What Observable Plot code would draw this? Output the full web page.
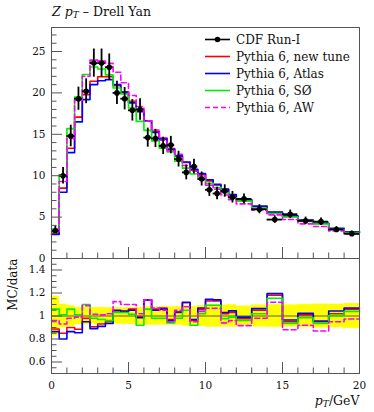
<!DOCTYPE html>
<html><head><meta charset="utf-8">
<script src="https://cdn.jsdelivr.net/npm/d3@7"></script>
<script src="https://cdn.jsdelivr.net/npm/@observablehq/plot@0.6"></script>
<style>
body{margin:0;background:#fff;}
#wrap{position:relative;width:374px;height:412px;font-family:"DejaVu Serif",serif;}
#wrap .p{position:absolute;left:0;}
</style></head><body><div id="wrap"></div>
<script>
// bin edges (GeV)
const binEdges = [0,0.5,1,1.5,2,2.5,3,3.5,4,4.5,5,5.5,6,6.5,7,7.5,8,8.5,9,9.5,10,10.5,11,11.5,12,13,14,15,16,17,18,19,20];
// CDF Run-I data
const cdfValue = [3.35,10.0,14.8,19.3,20.2,23.6,23.6,23.1,20.0,19.3,17.9,18.0,14.6,14.5,13.6,13.7,12.0,10.4,11.1,9.6,8.3,7.85,8.15,7.4,7.2,5.95,4.7,5.35,4.55,4.45,3.5,3.0];
const cdfError = [0.57,1.0,1.3,1.4,1.5,1.7,1.7,1.6,1.4,1.35,1.3,1.3,1.15,1.1,1.05,1.05,0.95,0.9,0.9,0.85,0.8,0.75,0.75,0.7,0.6,0.55,0.45,0.5,0.45,0.45,0.35,0.32];
// MC / data ratios
const ratioNewTune = [0.887,0.85,0.90,0.885,0.98,0.907,0.93,0.95,1.043,1.043,1.06,0.995,1.14,1.06,1.07,0.97,1.03,1.115,0.962,1.058,1.13,1.13,1.02,1.03,0.977,1.05,1.18,0.95,1.01,0.95,1.02,1.06];
const ratioAtlas   = [0.864,0.80,0.864,0.855,0.95,0.89,0.91,0.935,1.05,1.04,1.05,0.985,1.14,1.05,1.06,0.96,1.035,1.12,0.97,1.07,1.145,1.14,1.03,1.045,0.99,1.064,1.195,0.965,1.023,0.957,1.043,1.07];
const ratioSO      = [1.06,1.01,1.06,1.01,1.10,0.98,0.97,0.96,1.03,1.03,1.015,0.92,1.06,0.98,0.98,0.94,0.98,1.05,0.92,1.02,1.093,1.093,0.977,0.99,0.962,1.02,1.155,0.936,0.985,0.936,1.003,1.04];
const ratioAW      = [0.96,0.93,0.98,0.99,1.09,1.015,1.01,1.02,1.125,1.10,1.10,1.02,1.14,1.07,1.05,0.95,1.05,1.08,0.95,1.04,1.067,1.067,0.94,0.96,0.916,0.98,1.12,0.88,0.92,0.87,0.95,0.974];
const seriesNames = ["Pythia 6, new tune","Pythia 6, Atlas","Pythia 6, SØ","Pythia 6, AW"];
const dataName = "CDF Run-I";
// ticks
const xMajor = [0,5,10,15,20];
const yMajorMain = [0,5,10,15,20,25];
const yMajorRatio = [0.6,0.8,1,1.2,1.4];
const yRatioLabels = ["0.6","0.8","1","1.2","1.4"];

const seriesStyle = [
  {stroke:"#ff0000"},{stroke:"#0000ff"},{stroke:"#00ee00"},{stroke:"#ff00ff",dash:"5,3"}
];
const ratios = [ratioNewTune, ratioAtlas, ratioSO, ratioAW];

const bins = cdfValue.map((v,i)=>({x1:binEdges[i],x2:binEdges[i+1],xc:(binEdges[i]+binEdges[i+1])/2,v,e:cdfError[i]}));
function steps(vals){const pts=[];vals.forEach((v,i)=>{pts.push({x:binEdges[i],y:v});pts.push({x:binEdges[i+1],y:v});});return pts;}

const AX = "#555";
const xMinor = d3.range(0,21,1).filter(d=>!xMajor.includes(d));
const yMinorMain = d3.range(0,28,1).filter(d=>!yMajorMain.includes(d));
const yMinorRatio = d3.range(0.55,1.5,0.05).map(d=>+d.toFixed(2)).filter(d=>!yMajorRatio.some(m=>Math.abs(m-d)<1e-6));

const common = {width:374, marginLeft:51, marginRight:15, style:{background:"transparent",overflow:"visible",fontFamily:"DejaVu Serif, serif",fontSize:"10.5px",color:"#111"}};

const lineMarks = (valsFn) => ratios.map((r,k)=>Plot.line(steps(valsFn(r)),{x:"x",y:"y",stroke:seriesStyle[k].stroke,strokeWidth:1.6,strokeDasharray:seriesStyle[k].dash||null}));

const main = Plot.plot({
  ...common, height:258, marginTop:27, marginBottom:0,
  x:{domain:[0,20], axis:null},
  y:{domain:[0,27.9], axis:null},
  marks:[
    ...lineMarks(r=>r.map((q,i)=>q*cdfValue[i])),
    Plot.ruleX(bins,{x:"xc",y1:d=>d.v-d.e,y2:d=>d.v+d.e,stroke:"black",strokeWidth:1.8}),
    Plot.ruleY(bins,{y:"v",x1:"x1",x2:"x2",stroke:"black",strokeWidth:1.8}),
    Plot.dot(bins,{x:"xc",y:"v",r:2.8,fill:"black"}),
    Plot.frame({stroke:AX}),
    Plot.axisY({ticks:yMajorMain,tickSize:-11,tickFormat:()=>"",label:null,stroke:AX}),
    Plot.axisY({ticks:yMinorMain,tickSize:-5.5,tickFormat:()=>"",label:null,stroke:AX}),
    Plot.axisY({ticks:yMajorMain,tickSize:0,tickPadding:6,label:null}),
    Plot.axisX({ticks:xMajor,tickSize:-11,tickFormat:()=>"",label:null,stroke:AX}),
    Plot.axisX({ticks:xMinor,tickSize:-5.5,tickFormat:()=>"",label:null,stroke:AX})
  ]
});

const ratio = Plot.plot({
  ...common, height:154, marginTop:0, marginBottom:39,
  x:{domain:[0,20], axis:null},
  y:{domain:[0.5,1.5], axis:null},
  marks:[
    Plot.rect(bins,{x1:"x1",x2:"x2",y1:d=>1-d.e/d.v,y2:d=>1+d.e/d.v,fill:"#ffff00",stroke:"#ffff00",strokeWidth:0.5}),
    Plot.ruleY([1],{stroke:"#333",strokeWidth:0.8}),
    ...lineMarks(r=>r),
    Plot.frame({stroke:AX}),
    Plot.axisY({ticks:yMajorRatio,tickSize:-11,tickFormat:()=>"",label:null,stroke:AX}),
    Plot.axisY({ticks:yMinorRatio,tickSize:-5.5,tickFormat:()=>"",label:null,stroke:AX}),
    Plot.axisY({ticks:yMajorRatio,tickSize:0,tickPadding:6,label:null,tickFormat:(d,i)=>yRatioLabels[i]}),
    Plot.axisX({ticks:xMajor,tickSize:-11,tickFormat:()=>"",label:null,stroke:AX}),
    Plot.axisX({ticks:xMinor,tickSize:-5.5,tickFormat:()=>"",label:null,stroke:AX}),
    Plot.axisX({ticks:xMajor,tickSize:0,tickPadding:8,label:null})
  ]
});

const wrap = document.getElementById("wrap");
const d1 = document.createElement("div"); d1.className="p"; d1.style.top="0px"; d1.appendChild(main); wrap.appendChild(d1);
const d2 = document.createElement("div"); d2.className="p"; d2.style.top="258px"; d2.appendChild(ratio); wrap.appendChild(d2);

// overlay: title, legend, axis titles
const ov = d3.select(wrap).append("svg").attr("width",374).attr("height",412)
  .style("position","absolute").style("left","0").style("top","0").style("pointer-events","none")
  .style("font-family","DejaVu Serif, serif").style("overflow","visible");

const t = ov.append("text").attr("x",52).attr("y",15.5).attr("font-size",12.5).attr("fill","#111");
t.append("tspan").attr("font-style","italic").text("Z");
t.append("tspan").text(" ");
t.append("tspan").attr("font-style","italic").text("p");
t.append("tspan").attr("font-style","italic").attr("font-size",9).attr("dy",2.5).text("T");
t.append("tspan").attr("dy",-2.5).text(" – Drell Yan");

const legendNames = [dataName, ...seriesNames];
const lg = ov.append("g").attr("font-size",12).attr("fill","#111");
legendNames.forEach((name,i)=>{
  const y = 39.5 + 17*i;
  if(i===0){
    lg.append("line").attr("x1",205).attr("x2",230).attr("y1",y).attr("y2",y).attr("stroke","black").attr("stroke-width",1.6);
    lg.append("circle").attr("cx",217.5).attr("cy",y).attr("r",2.8).attr("fill","black");
  } else {
    const s = seriesStyle[i-1];
    lg.append("line").attr("x1",205).attr("x2",230).attr("y1",y).attr("y2",y).attr("stroke",s.stroke).attr("stroke-width",1.6).attr("stroke-dasharray",s.dash||null);
  }
  lg.append("text").attr("x",236).attr("y",y).attr("dy","0.35em").text(name);
});

ov.append("text").attr("transform","translate(16.5,258.5) rotate(-90)").attr("text-anchor","end").attr("font-size",12).attr("fill","#111").text("MC/data");

const xl = ov.append("text").attr("x",359.5).attr("y",404.5).attr("text-anchor","end").attr("font-size",12.5).attr("fill","#111");
xl.append("tspan").attr("font-style","italic").text("p");
xl.append("tspan").attr("font-style","italic").attr("font-size",9).attr("dy",2.5).text("T");
xl.append("tspan").attr("dy",-2.5).text("/GeV");
</script></body></html>
